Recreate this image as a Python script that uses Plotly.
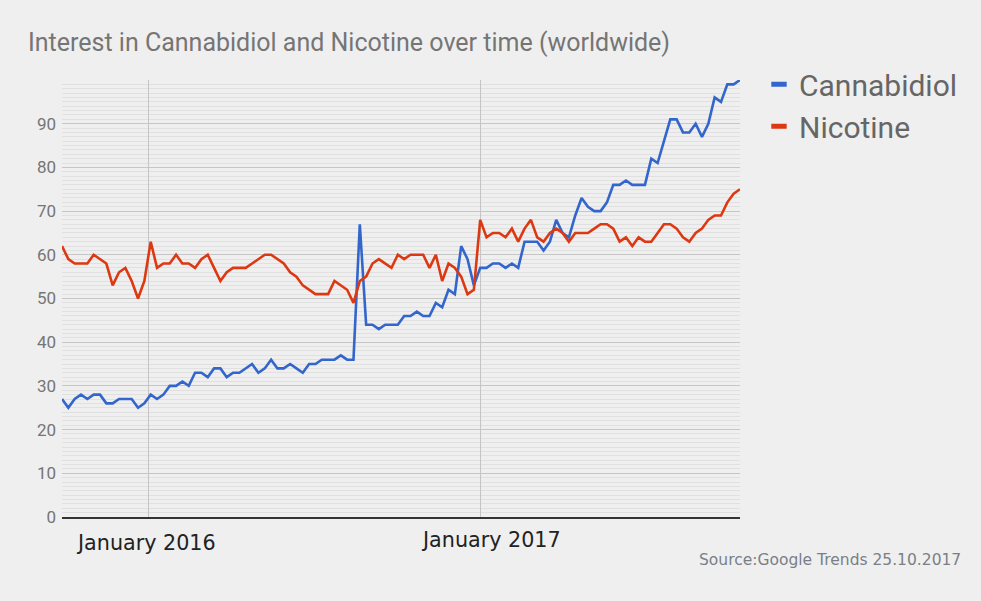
import pandas as pd
import plotly.graph_objects as go

start_date = "2015-09-27"
n_weeks = 108
dates = pd.date_range(start_date, periods=n_weeks, freq="7D")

cannabidiol = [27, 25, 27, 28, 27, 28, 28, 26, 26, 27, 27, 27, 25, 26, 28, 27, 28, 30, 30, 31,
               30, 33, 33, 32, 34, 34, 32, 33, 33, 34, 35, 33, 34, 36, 34, 34, 35, 34, 33, 35,
               35, 36, 36, 36, 37, 36, 36, 67, 44, 44, 43, 44, 44, 44, 46, 46, 47, 46, 46, 49,
               48, 52, 51, 62, 59, 53, 57, 57, 58, 58, 57, 58, 57, 63, 63, 63, 61, 63, 68, 65,
               64, 69, 73, 71, 70, 70, 72, 76, 76, 77, 76, 76, 76, 82, 81, 86, 91, 91, 88, 88,
               90, 87, 90, 96, 95, 99, 99, 100]
nicotine = [62, 59, 58, 58, 58, 60, 59, 58, 53, 56, 57, 54, 50, 54, 63, 57, 58, 58, 60, 58,
            58, 57, 59, 60, 57, 54, 56, 57, 57, 57, 58, 59, 60, 60, 59, 58, 56, 55, 53, 52,
            51, 51, 51, 54, 53, 52, 49, 54, 55, 58, 59, 58, 57, 60, 59, 60, 60, 60, 57, 60,
            54, 58, 57, 55, 51, 52, 68, 64, 65, 65, 64, 66, 63, 66, 68, 64, 63, 65, 66, 65,
            63, 65, 65, 65, 66, 67, 67, 66, 63, 64, 62, 64, 63, 63, 65, 67, 67, 66, 64, 63,
            65, 66, 68, 69, 69, 72, 74, 75]

series_names = ["Cannabidiol", "Nicotine"]
series_colors = ["#3366cc", "#dc3912"]
year_ticks = ["2016-01-01", "2017-01-01"]
year_labels = ["January 2016", "January 2017"]
y_major = list(range(0, 100, 10))
y_minor = [v for v in range(1, 100) if v % 10 != 0]

title_text = "Interest in Cannabidiol and Nicotine over time (worldwide)"
source_text = "Source:Google Trends 25.10.2017"

fig = go.Figure()
for name, vals, col in zip(series_names, [cannabidiol, nicotine], series_colors):
    fig.add_trace(go.Scatter(x=dates, y=vals, mode="lines", name=name,
                             line=dict(color=col, width=2.6), showlegend=False))
    fig.add_trace(go.Scatter(x=[None], y=[None], mode="markers", name=name,
                             marker=dict(symbol="line-ew", size=11, color=col,
                                         line=dict(color=col, width=5)),
                             showlegend=True))

fig.update_layout(
    width=981, height=601,
    margin=dict(l=62, r=241, t=80, b=84),
    paper_bgcolor="#efefef", plot_bgcolor="#efefef",
    title=dict(text=title_text, x=28/981, xanchor="left", y=1-42/601, yanchor="middle",
               font=dict(family="Roboto", size=25, color="#757575")),
    legend=dict(x=1.028, xanchor="left", y=1.05, yanchor="top",
                font=dict(family="Roboto", size=30, color="#666666"),
                bgcolor="rgba(0,0,0,0)", tracegroupgap=0),
    showlegend=True,
)
fig.update_xaxes(type="date", range=[dates[0], dates[-1]],
                 tickmode="array", tickvals=year_ticks, showticklabels=False,
                 showgrid=True, gridcolor="#c4c4c4", gridwidth=1,
                 showline=True, linecolor="#333333", linewidth=1.5, ticks="",
                 zeroline=False)
fig.update_yaxes(range=[0, 100], tickmode="array", tickvals=y_major,
                 showgrid=True, gridcolor="#c6c6c6", gridwidth=1,
                 minor=dict(tickmode="array", tickvals=y_minor, showgrid=True,
                            gridcolor="#e0e0e0", gridwidth=1),
                 zeroline=False, ticks="", ticklabelstandoff=5,
                 tickfont=dict(family="Roboto", size=17, color="#757575"))

shifts = [(-3, -26), (11, -23)]
for tv, lbl, (xs, ys) in zip(year_ticks, year_labels, shifts):
    fig.add_annotation(x=tv, xref="x", y=0, yref="paper", text=lbl, showarrow=False,
                       xanchor="center", yanchor="middle", xshift=xs, yshift=ys,
                       font=dict(family="DejaVu Sans", size=20.7, color="#222222"))

fig.add_annotation(x=(963-62)/678, xref="paper", y=0, yref="paper", text=source_text,
                   showarrow=False, xanchor="right", yanchor="middle", yshift=-43,
                   font=dict(family="DejaVu Sans", size=15.5, color="#7a7f87"))

fig.write_html("out.html", config={"displayModeBar": False},
               post_script="document.body.style.margin='0';document.body.style.background='#efefef';")
